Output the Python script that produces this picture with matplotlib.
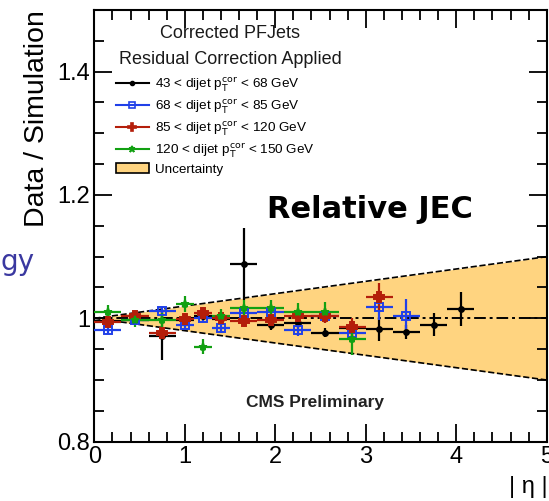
import matplotlib
matplotlib.use("Agg")
import matplotlib.pyplot as plt
from matplotlib.patches import Patch
from matplotlib.lines import Line2D
from matplotlib.ticker import MultipleLocator
import numpy as np

plt.rcParams['font.family'] = ['Liberation Sans', 'DejaVu Sans']

# eta bin centres and half widths
eta = [0.15, 0.45, 0.75, 1.0, 1.2, 1.4, 1.65, 1.95, 2.25, 2.55, 2.85, 3.15, 3.45, 3.75, 4.05]
eta_hw = [0.15, 0.15, 0.15, 0.1, 0.1, 0.1, 0.15, 0.15, 0.15, 0.15, 0.15, 0.15, 0.15, 0.15, 0.15]

# 43 < pT < 68
r_43 = [0.995, 0.997, 0.972, 0.998, 1.003, 0.999, 1.088, 0.989, 0.992, 0.977, 0.985, 0.982, 0.978, 0.990, 1.015]
e_43 = [0.005, 0.005, 0.040, 0.006, 0.006, 0.006, 0.058, 0.008, 0.008, 0.008, 0.010, 0.018, 0.012, 0.018, 0.028]
# 68 < pT < 85
r_68 = [0.981, 0.998, 1.012, 0.990, 1.000, 0.984, 1.008, 1.010, 0.981, 1.003, 0.976, 1.018, 1.004]
e_68 = [0.007, 0.007, 0.008, 0.008, 0.008, 0.008, 0.009, 0.009, 0.010, 0.010, 0.012, 0.020, 0.028]
# 85 < pT < 120
r_85 = [0.994, 1.004, 0.976, 0.999, 1.008, 1.000, 0.996, 0.997, 1.004, 1.004, 0.986, 1.035]
e_85 = [0.008, 0.008, 0.009, 0.009, 0.010, 0.010, 0.010, 0.010, 0.011, 0.012, 0.014, 0.023]
# 120 < pT < 150
r_120 = [1.011, 0.997, 0.997, 1.024, 0.954, 1.003, 1.016, 1.016, 1.011, 1.011, 0.966]
e_120 = [0.011, 0.011, 0.012, 0.013, 0.012, 0.012, 0.013, 0.013, 0.014, 0.016, 0.025]

band_eta = [0.0, 5.0]
band_unc = [0.0, 0.1]

labels = ["43 < dijet p$_{\\rm T}^{\\rm cor}$ < 68 GeV",
          "68 < dijet p$_{\\rm T}^{\\rm cor}$ < 85 GeV",
          "85 < dijet p$_{\\rm T}^{\\rm cor}$ < 120 GeV",
          "120 < dijet p$_{\\rm T}^{\\rm cor}$ < 150 GeV"]


def main():
    fig = plt.figure(figsize=(5.49, 5.01), dpi=100)
    ax = fig.add_axes([0.1718, 0.1184, 0.8240, 0.8617])

    be = np.array(band_eta)
    bu = np.array(band_unc)
    ax.fill_between(be, 1 - bu, 1 + bu, color='#ffd480', lw=0, zorder=1)
    ax.plot(be, 1 + bu, color='k', ls='--', lw=1.2, zorder=2)
    ax.plot(be, 1 - bu, color='k', ls='--', lw=1.2, zorder=2)
    ax.plot([0, 5], [1, 1], color='k', ls=(0, (6, 2, 1.5, 2)), lw=1.4, zorder=2)

    series = [(r_43, e_43, 'k', 'o', 'k', 3.5),
              (r_68, e_68, '#2040e8', 's', 'none', 6),
              (r_85, e_85, '#b41e0a', 'P', '#b41e0a', 7),
              (r_120, e_120, '#12a012', '*', '#12a012', 6)]
    handles = []
    for r, e, c, m, mfc, ms in series:
        n = len(r)
        ax.errorbar(eta[:n], r, xerr=eta_hw[:n], yerr=e, fmt=m, color=c,
                    mfc=mfc, mec=c, ms=ms, mew=1.4, elinewidth=1.6,
                    capsize=0, zorder=3)
        handles.append(Line2D([0], [0], color=c, marker=m, mfc=mfc, mec=c,
                              ms=ms * 0.8, mew=1.2, lw=1.5))
    handles.append(Patch(facecolor='#ffd480', edgecolor='k', lw=1.2))

    ax.legend(handles, labels + ["Uncertainty"], loc='upper left',
              bbox_to_anchor=(0.035, 0.862), frameon=False, fontsize=9.7,
              handlelength=2.5, handletextpad=0.4, labelspacing=0.3,
              borderaxespad=0)
    ax.text(1.5, 1.462, "Corrected PFJets", ha='center', va='center',
            fontsize=13, color='#1a1a1a')
    ax.text(1.5, 1.42, "Residual Correction Applied", ha='center', va='center',
            fontsize=13, color='#1a1a1a')
    ax.text(2.44, 0.863, "CMS Preliminary", ha='center', va='center',
            fontsize=12.5, fontweight='bold', color='#222222')
    ax.text(3.05, 1.177, "Relative JEC", ha='center', va='center',
            fontsize=22, fontweight='bold', family='DejaVu Sans')

    ax.set_xlim(0, 5)
    ax.set_ylim(0.8, 1.5)
    ax.xaxis.set_major_locator(MultipleLocator(1))
    ax.xaxis.set_minor_locator(MultipleLocator(0.2))
    ax.yaxis.set_minor_locator(MultipleLocator(0.05))
    ax.set_yticks([0.8, 1.0, 1.2, 1.4])
    ax.set_yticklabels(["0.8", "1", "1.2", "1.4"])
    ax.tick_params(which='both', direction='in', top=True, right=True,
                   labelsize=17, width=1.3)
    ax.tick_params(which='major', length=13, pad=3)
    ax.tick_params(which='minor', length=7)
    for s in ax.spines.values():
        s.set_linewidth(1.5)

    ax.set_ylabel("Data / Simulation", fontsize=20.5, loc='top', labelpad=5)
    fig.text(0.998, 0.005, "| η |", ha='right', va='bottom', fontsize=17)
    fig.text(0.0, 0.478, "gy", ha='left', va='center', fontsize=20,
             color='#3a38a0', family='DejaVu Sans')

    fig.savefig("out.png", dpi=100)
    plt.close(fig)


if __name__ == "__main__":
    main()
